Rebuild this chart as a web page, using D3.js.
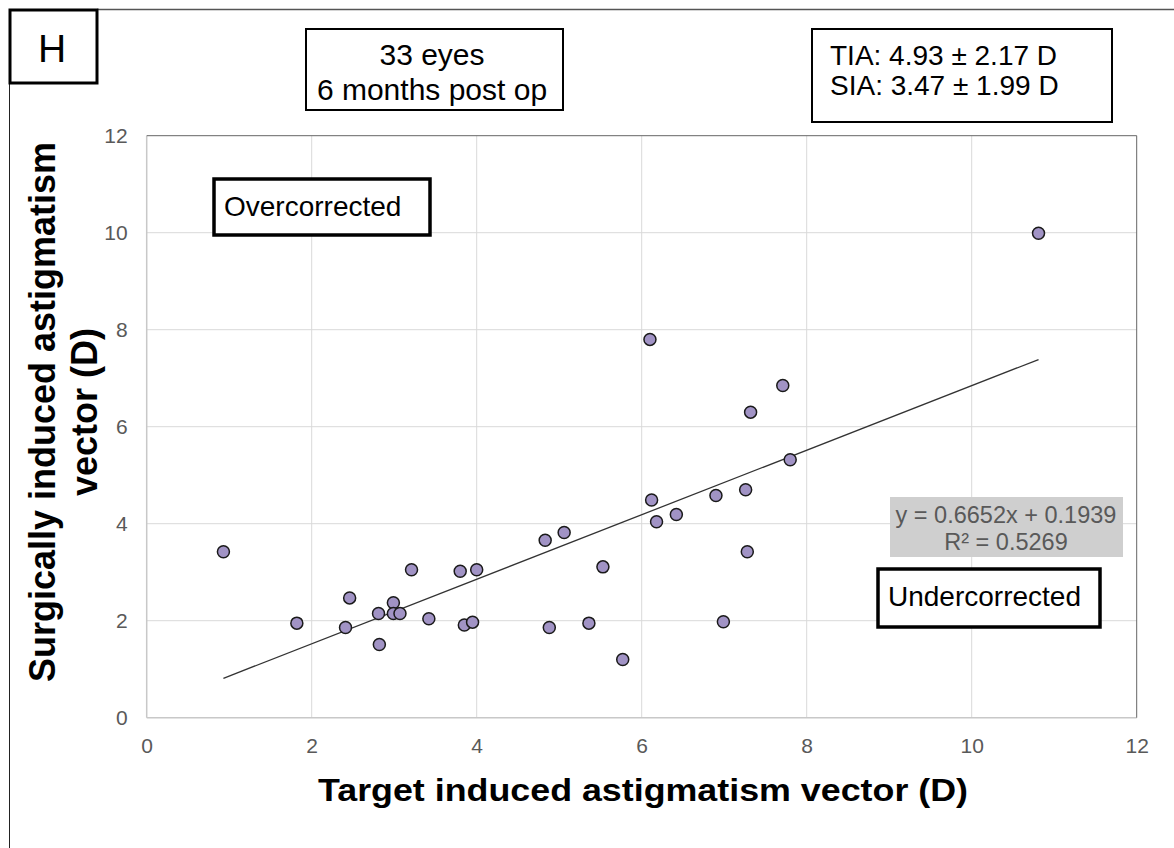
<!DOCTYPE html>
<html>
<head>
<meta charset="utf-8">
<script src="https://cdn.jsdelivr.net/npm/d3@7"></script>
<style>
  body { margin: 0; background: #fff; }
  text { font-family: "Liberation Sans", Arial, sans-serif; }
</style>
</head>
<body>
<div id="chart"></div>
<script>
var w = 1174;
var h = 848;

// values: TIA (x) and SIA (y), 33 eyes
var tia = [0.93, 1.82, 2.46, 2.41, 2.81, 2.82, 2.99, 2.99, 3.07, 3.21, 3.42,
           3.80, 4.00, 3.85, 3.95, 4.83, 5.06, 4.88, 5.53, 5.36, 5.77,
           6.10, 7.71, 7.32, 7.80, 6.12, 6.18, 6.42, 6.90, 7.26, 7.28, 6.99, 10.81];
var sia = [3.42, 1.95, 2.47, 1.86, 2.15, 1.51, 2.37, 2.15, 2.15, 3.05, 2.04,
           3.02, 3.05, 1.91, 1.97, 3.66, 3.82, 1.86, 3.11, 1.95, 1.20,
           7.80, 6.85, 6.30, 5.32, 4.49, 4.04, 4.19, 4.58, 4.70, 3.42, 1.98, 9.99];

var xTicks = [0, 2, 4, 6, 8, 10, 12];
var yTicks = [0, 2, 4, 6, 8, 10, 12];

// trendline reported in the figure
var slope = 0.6652;
var intercept = 0.1939;
var r2 = 0.5269;

var statLines = ["TIA: 4.93 \u00b1 2.17 D", "SIA: 3.47 \u00b1 1.99 D"];
var infoLines = ["33 eyes", "6 months post op"];

var points = tia.map(function(d, i) { return {x: d, y: sia[i]}; });

var x = d3.scaleLinear().domain([0, 12]).range([146.7, 1136.7]);
var y = d3.scaleLinear().domain([0, 12]).range([717.7, 135.7]);

var svg = d3.select("#chart")
            .append("svg")
                .attr("width", w)
                .attr("height", h);

// outer frame (top and left edges visible)
svg.append("line").attr("x1", 97).attr("x2", w).attr("y1", 9.5).attr("y2", 9.5)
    .attr("stroke", "#555").attr("stroke-width", 1.5);
svg.append("line").attr("x1", 9.5).attr("x2", 9.5).attr("y1", 82).attr("y2", h)
    .attr("stroke", "#222").attr("stroke-width", 1);

// grid
svg.append("g").selectAll("line.gx")
    .data(xTicks.slice(1, -1))
    .enter().append("line")
        .attr("x1", function(d) { return x(d); })
        .attr("x2", function(d) { return x(d); })
        .attr("y1", y(12)).attr("y2", y(0))
        .attr("stroke", "#d9d9d9").attr("stroke-width", 1);
svg.append("g").selectAll("line.gy")
    .data(yTicks.slice(1, -1))
    .enter().append("line")
        .attr("x1", x(0)).attr("x2", x(12))
        .attr("y1", function(d) { return y(d); })
        .attr("y2", function(d) { return y(d); })
        .attr("stroke", "#d9d9d9").attr("stroke-width", 1);

// plot border
svg.append("line").attr("x1", x(0)).attr("x2", x(0)).attr("y1", y(12)).attr("y2", y(0))
    .attr("stroke", "#c8c8c8").attr("stroke-width", 1.5);
svg.append("line").attr("x1", x(0)).attr("x2", x(12)).attr("y1", y(0)).attr("y2", y(0))
    .attr("stroke", "#c8c8c8").attr("stroke-width", 1.5);
svg.append("line").attr("x1", x(0)).attr("x2", x(12)).attr("y1", y(12)).attr("y2", y(12))
    .attr("stroke", "#666").attr("stroke-width", 1);
svg.append("line").attr("x1", x(12)).attr("x2", x(12)).attr("y1", y(12)).attr("y2", y(0))
    .attr("stroke", "#666").attr("stroke-width", 1);

// tick labels
var xAxis = d3.axisBottom(x).tickValues(xTicks).tickSize(0).tickPadding(20);
var gx = svg.append("g").attr("transform", "translate(0," + y(0) + ")").call(xAxis);
gx.select(".domain").remove();
gx.selectAll("text").attr("font-size", 21).attr("fill", "#595959")
    .style("font-family", "'Liberation Sans', Arial, sans-serif");

var yAxis = d3.axisLeft(y).tickValues(yTicks).tickSize(0).tickPadding(19);
var gy = svg.append("g").attr("transform", "translate(" + x(0) + ",0)").call(yAxis);
gy.select(".domain").remove();
gy.selectAll("text").attr("font-size", 21).attr("fill", "#595959")
    .style("font-family", "'Liberation Sans', Arial, sans-serif");

// trendline over the data range
var xr = d3.extent(tia);
svg.append("line")
    .attr("x1", x(xr[0])).attr("y1", y(slope * xr[0] + intercept))
    .attr("x2", x(xr[1])).attr("y2", y(slope * xr[1] + intercept))
    .attr("stroke", "#333").attr("stroke-width", 1.3);

// points
svg.append("g").selectAll("circle")
    .data(points)
    .enter().append("circle")
        .attr("cx", function(d) { return x(d.x); })
        .attr("cy", function(d) { return y(d.y); })
        .attr("r", 6)
        .attr("fill", "#a193c5")
        .attr("stroke", "#1a1a1a")
        .attr("stroke-width", 1.5);

// equation label
svg.append("rect").attr("x", 890).attr("y", 497).attr("width", 233).attr("height", 60)
    .attr("fill", "#cfcfcf");
svg.append("text").attr("x", 1006).attr("y", 523).attr("text-anchor", "middle")
    .attr("font-size", 23.5).attr("fill", "#595959")
    .text("y = " + slope + "x + " + intercept);
svg.append("text").attr("x", 1006).attr("y", 550).attr("text-anchor", "middle")
    .attr("font-size", 23.5).attr("fill", "#595959")
    .text("R\u00b2 = " + r2);

// boxed annotations
function box(x0, y0, bw, bh, sw) {
    svg.append("rect").attr("x", x0).attr("y", y0).attr("width", bw).attr("height", bh)
        .attr("fill", "#fff").attr("stroke", "#000").attr("stroke-width", sw);
}

box(10, 10, 87, 73, 3);
svg.append("text").attr("x", 52).attr("y", 62).attr("text-anchor", "middle")
    .attr("font-size", 39).text("H");

box(306, 29, 257, 81, 2);
svg.append("g").selectAll("text")
    .data(infoLines)
    .enter().append("text")
        .attr("x", 432).attr("y", function(d, i) { return 65 + i * 35; })
        .attr("text-anchor", "middle").attr("font-size", 30)
        .text(function(d) { return d; });

box(812, 29, 300, 93, 2);
svg.append("g").selectAll("text")
    .data(statLines)
    .enter().append("text")
        .attr("x", 830).attr("y", function(d, i) { return 65 + i * 30; })
        .attr("font-size", 28)
        .text(function(d) { return d; });

box(214, 179, 216, 56, 3.5);
svg.append("text").attr("x", 224).attr("y", 216).attr("font-size", 28).text("Overcorrected");

box(878, 569, 222, 58, 3.5);
svg.append("text").attr("x", 888).attr("y", 606).attr("font-size", 28).text("Undercorrected");

// axis titles
svg.append("text").attr("x", 643).attr("y", 801).attr("text-anchor", "middle")
    .attr("font-size", 32).attr("font-weight", "bold")
    .attr("textLength", 650).attr("lengthAdjust", "spacingAndGlyphs")
    .text("Target induced astigmatism vector (D)");

var yt = svg.append("text")
    .attr("transform", "translate(55,412) rotate(-90)")
    .attr("text-anchor", "middle").attr("font-size", 36).attr("font-weight", "bold");
yt.append("tspan").attr("x", 0).attr("y", 0).text("Surgically induced astigmatism");
yt.append("tspan").attr("x", 0).attr("y", 42).text("vector (D)");
</script>
</body>
</html>
